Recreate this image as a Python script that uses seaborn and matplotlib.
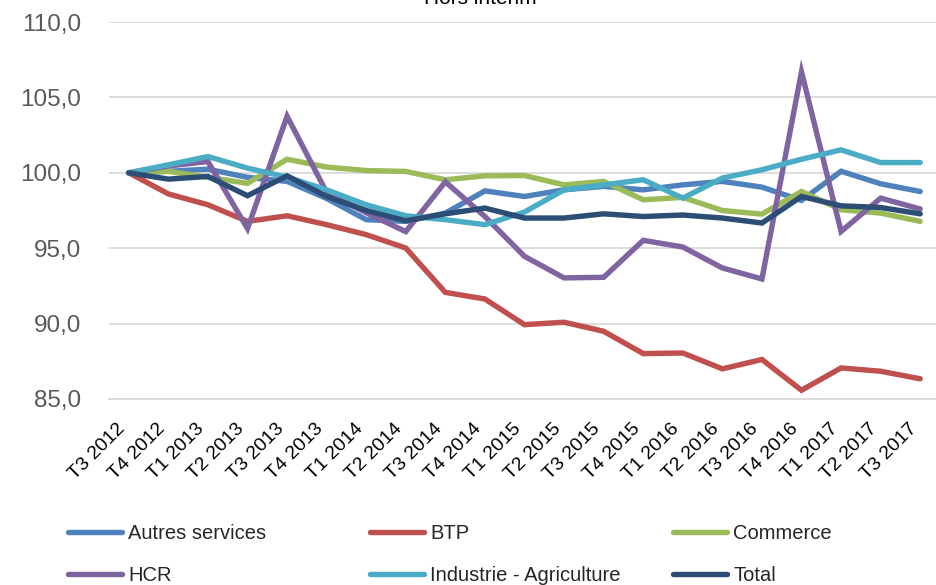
import matplotlib
matplotlib.use("Agg")
import matplotlib.pyplot as plt
from matplotlib.ticker import FuncFormatter, FixedLocator
from matplotlib.lines import Line2D
import seaborn as sns
import pandas as pd

quarters = ["T3 2012", "T4 2012", "T1 2013", "T2 2013", "T3 2013", "T4 2013",
            "T1 2014", "T2 2014", "T3 2014", "T4 2014", "T1 2015", "T2 2015",
            "T3 2015", "T4 2015", "T1 2016", "T2 2016", "T3 2016", "T4 2016",
            "T1 2017", "T2 2017", "T3 2017"]

autres_services = [100.0, 100.1, 100.24, 99.7, 99.43, 98.3, 96.89, 96.78, 97.33, 98.8,
                   98.43, 98.87, 99.1, 98.87, 99.2, 99.43, 99.05, 98.17, 100.1, 99.27, 98.76]
btp = [100.0, 98.6, 97.88, 96.78, 97.15, 96.56, 95.9, 95.01, 92.07, 91.63,
       89.93, 90.09, 89.49, 88.01, 88.05, 87.0, 87.62, 85.58, 87.06, 86.84, 86.34]
commerce = [100.0, 100.1, 99.7, 99.3, 100.9, 100.38, 100.15, 100.09, 99.54, 99.8,
            99.82, 99.2, 99.43, 98.21, 98.37, 97.5, 97.26, 98.76, 97.55, 97.33, 96.78]
hcr = [100.0, 100.45, 100.75, 96.3, 103.75, 98.7, 97.35, 96.1, 99.4, 97.1,
       94.46, 93.03, 93.07, 95.52, 95.08, 93.69, 92.96, 106.7, 96.11, 98.32, 97.6]
industrie_agriculture = [100.0, 100.53, 101.08, 100.31, 99.71, 98.87, 97.88, 97.15, 96.89, 96.56,
                         97.4, 98.87, 99.2, 99.54, 98.32, 99.65, 100.2, 100.9, 101.52, 100.68, 100.68]
total = [100.0, 99.58, 99.76, 98.48, 99.8, 98.43, 97.5, 96.82, 97.28, 97.66,
         97.0, 97.0, 97.28, 97.1, 97.2, 97.0, 96.67, 98.43, 97.81, 97.7, 97.28]

series_names = ["Autres services", "BTP", "Commerce", "HCR", "Industrie - Agriculture", "Total"]
series_values = [autres_services, btp, commerce, hcr, industrie_agriculture, total]
colors = ["#4F81BD", "#C0504D", "#9BBB59", "#8064A2", "#4BACC6", "#2C4D75"]
y_ticks = [85, 90, 95, 100, 105, 110]
title = "Hors intérim"

rows = []
for name, vals in zip(series_names, series_values):
    for i, v in enumerate(vals):
        rows.append({"idx": i, "value": v, "serie": name})
df = pd.DataFrame(rows)

sns.set_theme(style="white")
FONT = ["Liberation Sans", "DejaVu Sans"]
plt.rcParams["font.family"] = FONT

fig = plt.figure(figsize=(9.36, 5.85), dpi=100)
ax = fig.add_axes([109 / 936, 1 - 399 / 585, (940 - 109) / 936, (399 - 22) / 585])

sns.lineplot(data=df, x="idx", y="value", hue="serie", hue_order=series_names,
             palette=colors, linewidth=3.9, legend=False, ax=ax,
             solid_joinstyle="miter", solid_capstyle="round")

ax.set_xlim(-0.5, len(quarters) - 0.5)
ax.set_ylim(85, 110)
ax.set_yticks(y_ticks)
ax.yaxis.set_major_formatter(FuncFormatter(lambda v, p: f"{v:.1f}".replace(".", ",")))
ax.tick_params(axis="y", length=0, pad=20, labelsize=17.5, labelcolor="#595959")

ax.set_xticks(range(len(quarters)))
ax.set_xticklabels(quarters, rotation=45, ha="right", va="top", fontsize=14, color="black")
ax.tick_params(axis="x", which="major", length=0, pad=15)
ax.xaxis.set_minor_locator(FixedLocator([i - 0.5 for i in range(len(quarters) + 1)]))
ax.tick_params(axis="x", which="minor", length=6, width=1, color="#d9d9d9", direction="out")

ax.grid(axis="y", color="#d9d9d9", linewidth=1.3)
ax.grid(axis="x", visible=False)
for s in ["left", "right", "top"]:
    ax.spines[s].set_visible(False)
ax.spines["bottom"].set_color("#d9d9d9")
ax.spines["bottom"].set_linewidth(1.3)
ax.set_xlabel("")
ax.set_ylabel("")

fig.text(480 / 936, 1 - 4 / 585, title, ha="center", va="baseline", fontsize=15, color="black")

handles = [Line2D([0], [0], color=c, linewidth=3.9, solid_capstyle="round") for c in colors]
col_x = [68 / 936, 370 / 936, 673 / 936]
for c in range(3):
    hs = [handles[c], handles[c + 3]]
    ls = [series_names[c], series_names[c + 3]]
    fig.legend(hs, ls, loc="upper left", bbox_to_anchor=(col_x[c], 1 - 524 / 585),
               frameon=False, fontsize=14.5, handlelength=2.7, handletextpad=0.3,
               labelspacing=1.12, borderaxespad=0, borderpad=0)

fig.savefig("out.png", dpi=100)
